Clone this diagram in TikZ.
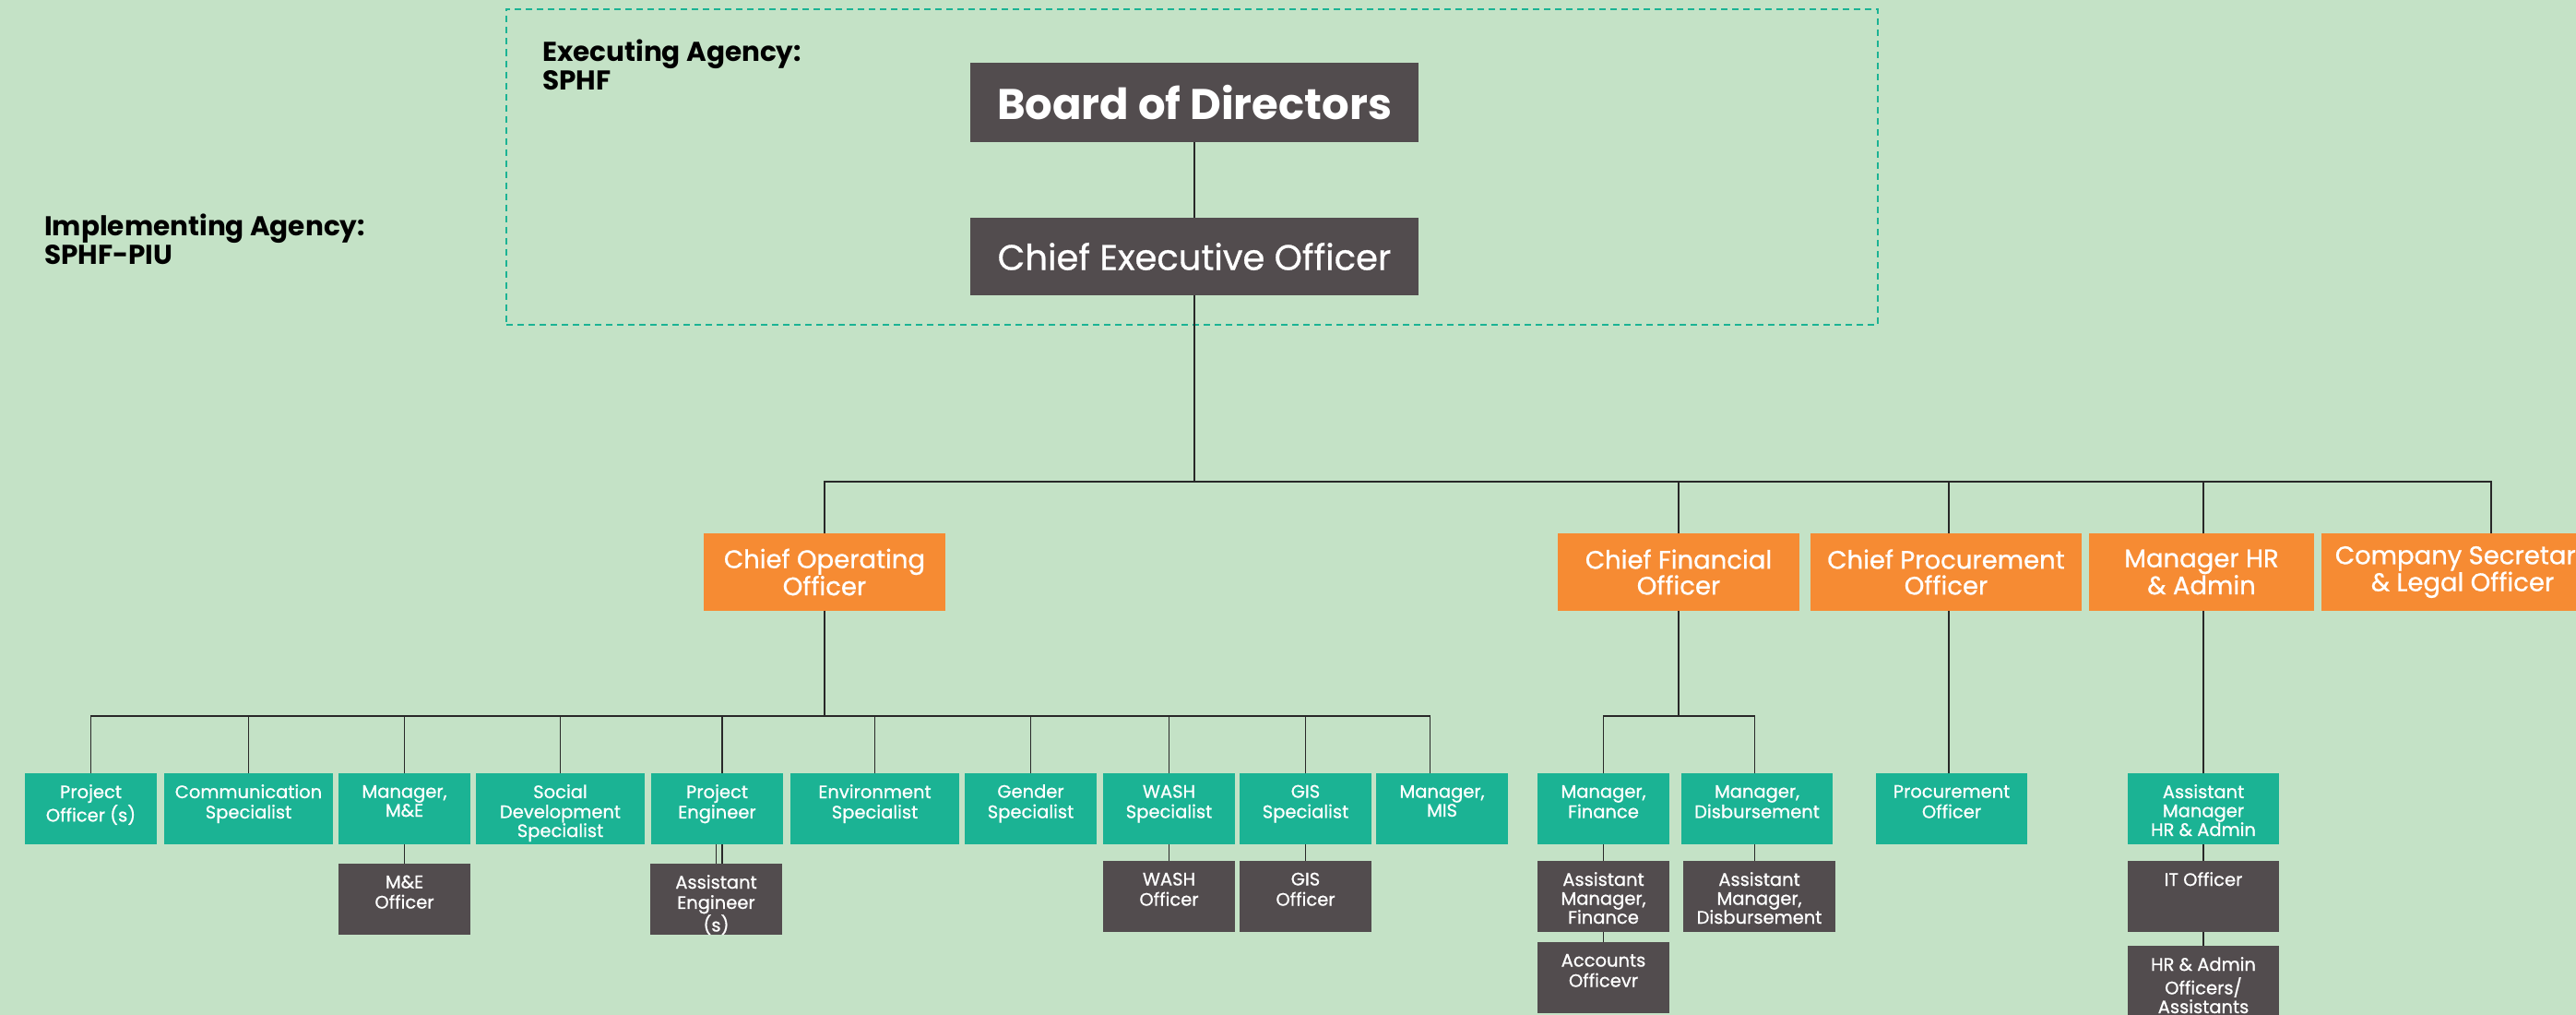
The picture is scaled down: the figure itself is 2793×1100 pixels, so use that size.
\documentclass[tikz,border=0pt]{standalone}
\usepackage{fontspec}
\setmainfont{Poppins}
\newfontfamily\pmed{Poppins}[FakeBold=0.8]
\definecolor{cbg}{RGB}{196,226,198}
\definecolor{cteal}{RGB}{27,179,148}
\definecolor{corange}{RGB}{246,139,51}
\definecolor{cdark}{RGB}{82,76,78}
\definecolor{cline}{RGB}{40,40,40}
\tikzset{
  box/.style={rectangle, inner sep=0pt, draw=none},
  tealbox/.style={box, fill=cteal, minimum height=77},
  darkbox/.style={box, fill=cdark, minimum height=77},
  orbox/.style={box, fill=corange, minimum height=84, text=white, align=center,
    font=\pmed\fontsize{27.5}{28}\selectfont},
  topbox/.style={box, fill=cdark, minimum width=486, text=white},
  lbl/.style={anchor=north, inner sep=0pt, text=white, align=center,
    font=\pmed\fontsize{19.5}{20.5}\selectfont},
  agency/.style={anchor=north west, inner sep=0pt, align=left,
    font=\bfseries\fontsize{29.5}{31}\selectfont, text=black},
  link/.style={draw=cline, line width=1.6pt},
}
\newcommand\bx[5]{%
  \node[#1, minimum width=#4] (#2) at (#3) {};
  \node[lbl] (#2-t) at ([yshift=-12.15pt]#2.north) {\strut #5};
}
\begin{document}
\begin{tikzpicture}[x=1pt,y=-1pt]
\useasboundingbox (0,0) rectangle (2793,1100);
\clip (0,0) rectangle (2793,1100);
\fill[cbg] (0,0) rectangle (2793,1100);

% executing agency frame
\node[draw=cteal, line width=2pt, dash pattern=on 7pt off 5pt, minimum width=1487, minimum height=342, inner sep=0pt] (exa) at (1292.5,180.5) {};
\node[agency] (exlbl) at (588,43) {\strut Executing Agency:\\SPHF};
\node[agency] (imlbl) at (48,231.5) {\strut Implementing Agency:\\SPHF-PIU};

% top
\node[topbox, minimum height=86, font=\bfseries\fontsize{46.5}{50}\selectfont] (bod) at (1295,111) {Board of Directors};
\node[topbox, minimum height=84, font=\pmed\fontsize{38.5}{44}\selectfont] (ceo) at (1295,278) {Chief Executive Officer};

% level 2
\node[orbox, minimum width=262] (coo) at (894,620) {Chief Operating\\Officer};
\node[orbox, minimum width=262] (cfo) at (1820,620) {Chief Financial\\Officer};
\node[orbox, minimum width=294] (cpo) at (2110,620) {Chief Procurement\\Officer};
\node[orbox, minimum width=244] (mhr) at (2387,620) {Manager HR\\\& Admin};
\node[orbox, minimum width=306] (cs) at (2670,620) {Company Secretary\\\& Legal Officer};

% level 3 (COO)
\bx{tealbox}{po}{98.5,876.5}{143}{Project\\Officer (s)}
\bx{tealbox}{comm}{269.5,876.5}{183}{Communication\\Specialist}
\bx{tealbox}{mme}{438.5,876.5}{143}{Manager,\\M\&E}
\bx{tealbox}{sds}{607.5,876.5}{183}{Social\\Development\\Specialist}
\bx{tealbox}{pe}{777.5,876.5}{143}{Project\\Engineer}
\bx{tealbox}{env}{948.5,876.5}{183}{Environment\\Specialist}
\bx{tealbox}{gen}{1117.5,876.5}{143}{Gender\\Specialist}
\bx{tealbox}{wash}{1267.5,876.5}{143}{WASH\\Specialist}
\bx{tealbox}{gis}{1415.5,876.5}{143}{GIS\\Specialist}
\bx{tealbox}{mis}{1563.5,876.5}{143}{Manager,\\MIS}
% level 3 (others)
\bx{tealbox}{mfin}{1738.5,876.5}{143}{Manager,\\Finance}
\bx{tealbox}{mdis}{1905,876.5}{164}{Manager,\\Disbursement}
\bx{tealbox}{proc}{2116,876.5}{164}{Procurement\\Officer}
\bx{tealbox}{amhr}{2389,876.5}{164}{Assistant\\Manager\\HR \& Admin}

% level 4
\bx{darkbox}{meo}{438.5,974.5}{143}{M\&E\\Officer}
\bx{darkbox}{ae}{776.5,974.5}{143}{Assistant\\Engineer\\(s)}
\bx{darkbox}{washo}{1267.5,971.5}{143}{WASH\\Officer}
\bx{darkbox}{giso}{1415.5,971.5}{143}{GIS\\Officer}
\bx{darkbox}{amfin}{1738.5,971.5}{143}{Assistant\\Manager,\\Finance}
\bx{darkbox}{amdis}{1907.5,971.5}{165}{Assistant\\Manager,\\Disbursement}
\bx{darkbox}{acc}{1738.5,1059.5}{143}{Accounts\\Officevr}
\bx{darkbox}{ito}{2389,971.5}{164}{IT Officer}
\bx{darkbox}{hro}{2389,1063.5}{164}{HR \& Admin\\Officers/\\Assistants}

% connectors
\coordinate (b1) at (1295,522);
\coordinate (b2) at (894,776);
\coordinate (b3) at (1820,776);
\draw[link] (bod.south) -- (ceo.north);
\draw[link] (ceo.south) -- (b1);
\draw[link] (coo.north) |- ([xshift=31pt]cs.north |- b1) -- ([xshift=31pt]cs.north);
\draw[link] (cfo.north) -- (cfo.north |- b1);
\draw[link] ([xshift=3pt]cpo.north) -- ([xshift=3pt]cpo.north |- b1);
\draw[link] ([xshift=2pt]mhr.north) -- ([xshift=2pt]mhr.north |- b1);

\draw[link] (coo.south) -- (b2);
\draw[link] (po.north) |- ([xshift=-13pt]mis.north |- b2) -- ([xshift=-13pt]mis.north);
\foreach \n in {comm,mme,sds,env,gen,wash,gis}
  \draw[link] (\n.north) -- (\n.north |- b2);
\draw[link] ([xshift=5.5pt]pe.north) -- ([xshift=5.5pt]pe.north |- b2);
\draw[link] (mme.south) -- (meo.north);
\draw[link] (ae.north |- pe.south) -- (ae.north);
\draw[link] ([xshift=5.5pt]pe.south) -- ([xshift=5.5pt]pe.south |- ae.north);
\draw[link] (wash.south) -- (washo.north);
\draw[link] (gis.south) -- (giso.north);

\draw[link] (cfo.south) -- (b3);
\draw[link] (mfin.north) |- ([xshift=-2.5pt]mdis.north |- b3) -- ([xshift=-2.5pt]mdis.north);
\draw[link] (mfin.south) -- (amfin.north);
\draw[link] (amfin.south) -- (acc.north);
\draw[link] ([xshift=-2.5pt]mdis.south) -- ([xshift=-2.5pt]mdis.south |- amdis.north);
\draw[link] ([xshift=3pt]cpo.south) -- ([xshift=3pt]cpo.south |- proc.north);
\draw[link] (amhr.north |- mhr.south) -- (amhr.north);
\draw[link] (amhr.south) -- (ito.north);
\draw[link] (ito.south) -- (hro.north);
\end{tikzpicture}
\end{document}
